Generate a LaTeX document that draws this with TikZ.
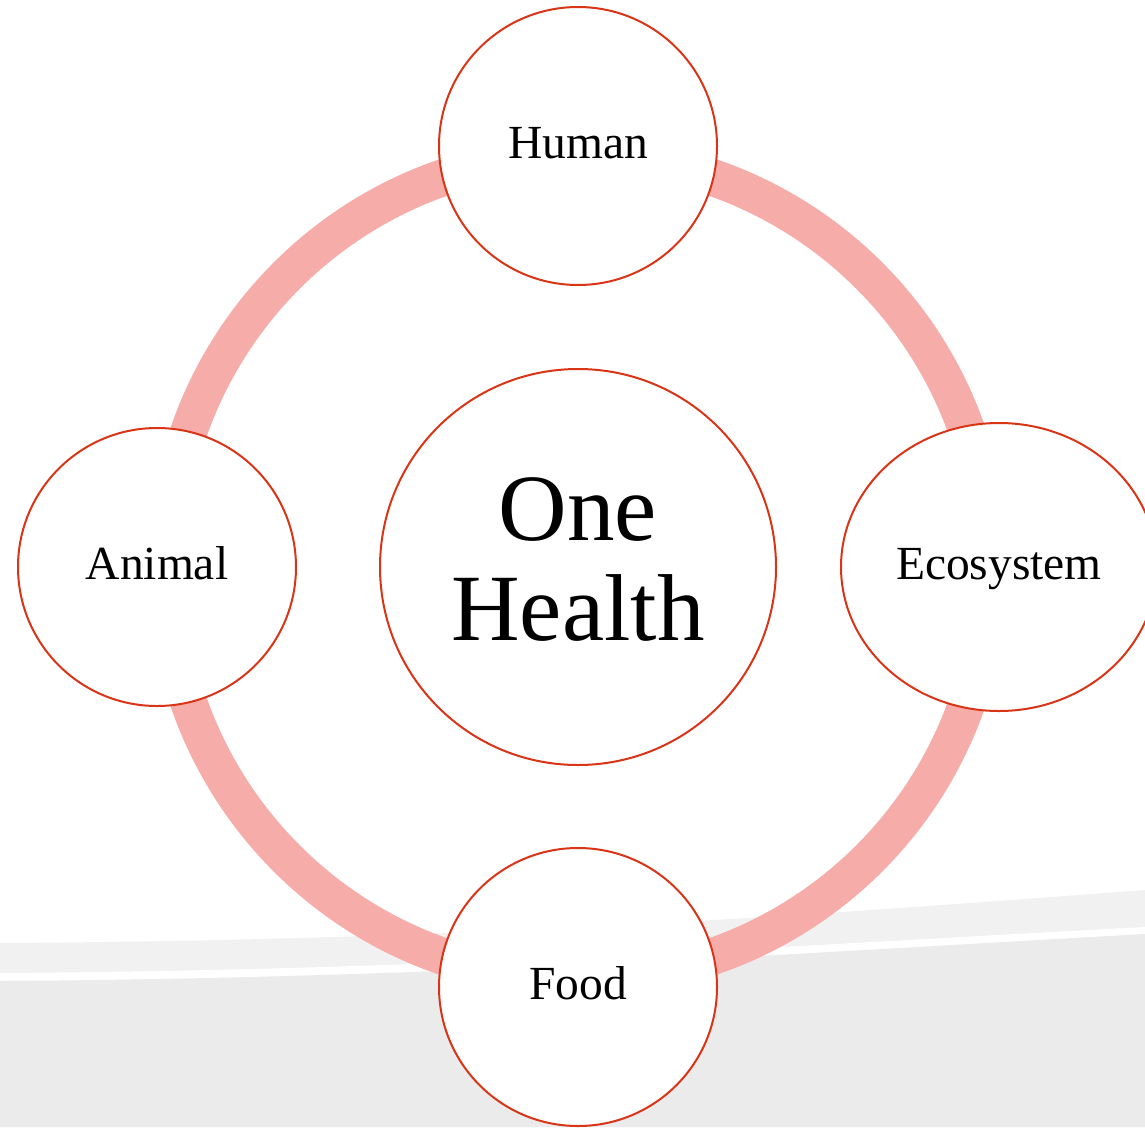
\documentclass[tikz,border=0pt]{standalone}
\usepackage{fontspec}
\setmainfont{Liberation Serif}
\usetikzlibrary{shapes.geometric,backgrounds}
\definecolor{ohred}{RGB}{218,52,22}
\definecolor{ohring}{RGB}{246,173,170}
\definecolor{bandlight}{RGB}{241,241,241}
\definecolor{banddark}{RGB}{235,235,235}
\begin{document}
\begin{tikzpicture}[x=1pt,y=-1pt,
  part/.style={circle,draw=ohred,line width=2pt,fill=white,inner sep=0pt,
    minimum size=278pt,text height=25pt,text depth=0pt,
    font=\fontsize{47.5}{50}\selectfont},
  hubtext/.style={font=\fontsize{95}{100}\selectfont,align=center,yshift=7pt},
  ring/.style={draw=ohring,line width=37pt}]
\useasboundingbox (0,0) rectangle (1145,1127);
\clip (0,0) rectangle (1145,1127);

\node[part,minimum size=396pt,label={[hubtext]center:One\\Health}] (hub) at (578,567) {};

\node[part] (human) at (578,146) {Human};
\node[part] (animal) at (157,567) {Animal};
\node[part] (food) at (578,987) {Food};
\node[part,ellipse,minimum width=316pt,minimum height=288pt] (eco) at (999,567) {Ecosystem};

\begin{scope}[on background layer]
% grey bands along the bottom
\fill[bandlight] (0,943) .. controls (500,940) and (850,912) .. (1145,890) -- (1145,1127) -- (0,1127) -- cycle;
\fill[white] (0,973) .. controls (450,970) and (800,945) .. (1145,927) -- (1145,1127) -- (0,1127) -- cycle;
\fill[banddark] (0,981) .. controls (450,978) and (800,953) .. (1145,934) -- (1145,1127) -- (0,1127) -- cycle;
% ring through the four parts
\draw[ring] (hub.center) circle[radius=412];
\end{scope}
\end{tikzpicture}
\end{document}
